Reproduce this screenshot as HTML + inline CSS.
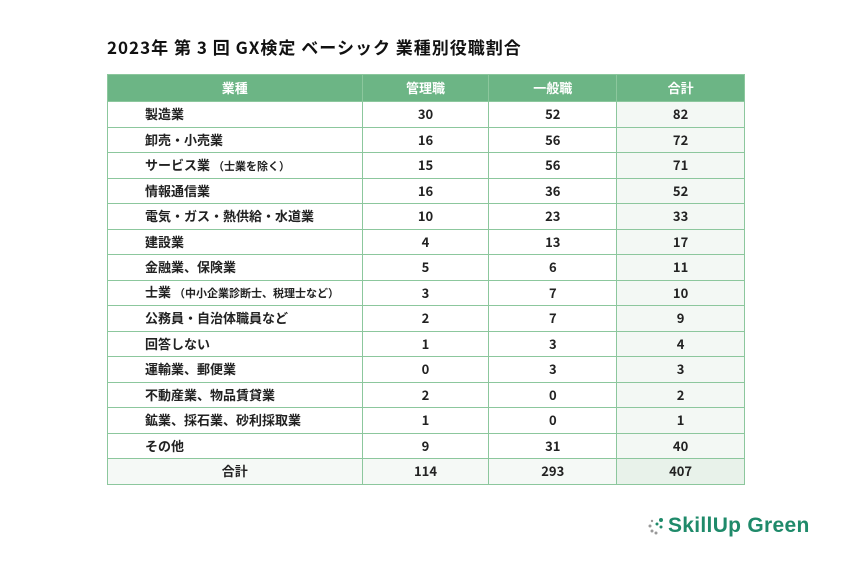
<!DOCTYPE html>
<html><head><meta charset="utf-8"><style>
body{margin:0;width:850px;height:567px;background:#fff;font-family:"Noto Sans CJK JP",sans-serif;position:relative;overflow:hidden}
h1{position:absolute;left:107px;top:35px;margin:0;font-size:17px;font-weight:bold;color:#111;letter-spacing:1px;line-height:24px}
table{position:absolute;left:107px;top:74px;border-collapse:collapse;width:638px}
td,th{border:1px solid #8cc79d;height:24.5px;padding:0;font-size:13px;color:#222;text-align:center;font-weight:bold;line-height:16px}
th{background:#6cb585;color:#fff;height:26px;font-weight:bold}
td:first-child{text-align:left;padding-left:37px}
td:nth-child(4){background:#f3f8f4}
tr.tot td{background:#f5f9f6}
tr.tot td:nth-child(4){background:#e8f2ea}
tr.tot td:first-child{text-align:center;padding-left:0}
small{font-size:11px}
.logo{position:absolute;left:668px;top:514px;font-family:"Liberation Sans",sans-serif;font-size:21px;font-weight:bold;color:#1f8a6a;letter-spacing:0.3px}
.ic{position:absolute;left:647px;top:517px;width:18px;height:18px}
</style></head><body>
<h1>2023年 第 3 回 GX検定 ベーシック 業種別役職割合</h1>
<table>
<colgroup><col style="width:255px"><col style="width:127px"><col style="width:128px"><col style="width:128px"></colgroup>
<tr><th>業種</th><th>管理職</th><th>一般職</th><th>合計</th></tr>
<tr><td>製造業</td><td>30</td><td>52</td><td>82</td></tr>
<tr><td>卸売・小売業</td><td>16</td><td>56</td><td>72</td></tr>
<tr><td>サービス業 <small>（士業を除く）</small></td><td>15</td><td>56</td><td>71</td></tr>
<tr><td>情報通信業</td><td>16</td><td>36</td><td>52</td></tr>
<tr><td>電気・ガス・熱供給・水道業</td><td>10</td><td>23</td><td>33</td></tr>
<tr><td>建設業</td><td>4</td><td>13</td><td>17</td></tr>
<tr><td>金融業、保険業</td><td>5</td><td>6</td><td>11</td></tr>
<tr><td>士業 <small>（中小企業診断士、税理士など）</small></td><td>3</td><td>7</td><td>10</td></tr>
<tr><td>公務員・自治体職員など</td><td>2</td><td>7</td><td>9</td></tr>
<tr><td>回答しない</td><td>1</td><td>3</td><td>4</td></tr>
<tr><td>運輸業、郵便業</td><td>0</td><td>3</td><td>3</td></tr>
<tr><td>不動産業、物品賃貸業</td><td>2</td><td>0</td><td>2</td></tr>
<tr><td>鉱業、採石業、砂利採取業</td><td>1</td><td>0</td><td>1</td></tr>
<tr><td>その他</td><td>9</td><td>31</td><td>40</td></tr>
<tr class="tot"><td>合計</td><td>114</td><td>293</td><td>407</td></tr>
</table>
<svg class="ic" viewBox="0 0 18 18"><g fill="#999"><circle cx="3" cy="9" r="1.5"/><circle cx="5" cy="14" r="1.5"/><circle cx="9" cy="16" r="1.5"/><circle cx="5" cy="4" r="1.2"/></g><g fill="#1f8a6a"><circle cx="14" cy="3" r="2"/><circle cx="10" cy="7" r="1.5"/><circle cx="14" cy="10" r="1.5"/></g></svg>
<div class="logo">SkillUp Green</div>
</body></html>
